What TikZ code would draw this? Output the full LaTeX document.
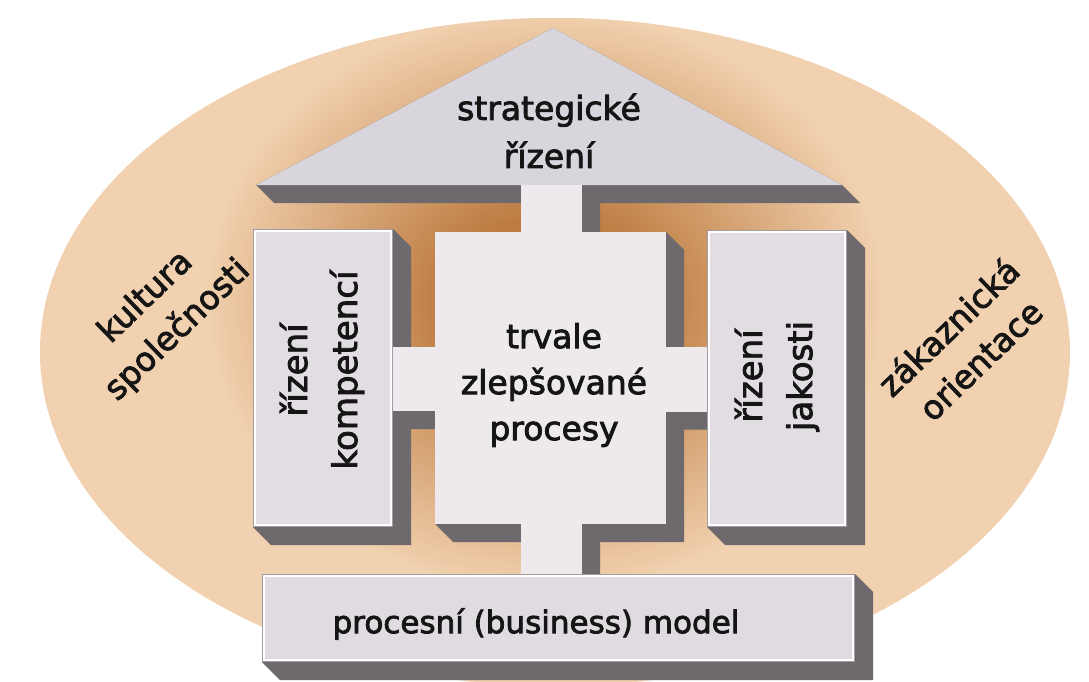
\documentclass[tikz,border=0pt]{standalone}
\usepackage{fontspec}
\setmainfont{DejaVu Sans}[FakeBold=2.5]
\usetikzlibrary{fit}

\definecolor{roofc}{HTML}{D9D5DC}
\definecolor{sidec}{HTML}{E1DDE3}
\definecolor{centc}{HTML}{EDE9ED}
\definecolor{basec}{HTML}{DFDBE1}
\definecolor{depthc}{HTML}{6D696C}
\definecolor{rimc}{HTML}{A19DA3}
\definecolor{brownc}{HTML}{BD7B40}
\definecolor{tanc}{HTML}{F1D1AF}
\definecolor{inkc}{HTML}{151515}

\pgfdeclareradialshading{halo}{\pgfpoint{0bp}{0bp}}{%
  color(0bp)=(brownc); color(7bp)=(brownc); color(25bp)=(tanc); color(50bp)=(tanc)}

\pgfdeclarelayer{backdrop}
\pgfdeclarelayer{depth}
\pgfsetlayers{backdrop,depth,main}

% depth of the extruded blocks
\newcommand\depthd{18}
% gray extrusion of a rectangular node towards the lower right
\newcommand\extrudebox[1]{%
  \fill[depthc] (#1.north west) -- (#1.north east)
    -- ([shift={(\depthd,\depthd)}]#1.north east)
    -- ([shift={(\depthd,\depthd)}]#1.south east)
    -- ([shift={(\depthd,\depthd)}]#1.south west)
    -- (#1.south west) -- cycle;}
% light inner rim of a block
\newcommand\rimbox[1]{%
  \draw[rimc, line width=0.8pt] ([shift={(0.4,0.4)}]#1.north west) rectangle ([shift={(-0.4,-0.4)}]#1.south east);
  \draw[white, line width=1.4pt] ([shift={(2,2)}]#1.north west) rectangle ([shift={(-2.2,-2.2)}]#1.south east);}

\begin{document}
\begin{tikzpicture}[x=1pt,y=-1pt,
  block/.style={fill=#1, draw=none, inner sep=0pt, outer sep=0pt},
  bar/.style={fit=#1, fill=centc, draw=none, inner sep=0pt, outer sep=0pt},
  label/.style={text=inkc, align=center, inner sep=0pt}]

\useasboundingbox (0,0) rectangle (1089,682);

% backdrop: white page and shaded ellipse
\begin{pgfonlayer}{backdrop}
  \fill[white] (0,0) rectangle (1089,682);
  \begin{scope}
    \clip (555,352) ellipse [x radius=515, y radius=334];
    \fill[tanc] (0,0) rectangle (1089,682);
    \shade[shading=halo] (545,300) ellipse [x radius=340, y radius=290];
  \end{scope}
\end{pgfonlayer}

% roof
\coordinate (apex) at (553,28);
\coordinate (eaveL) at (256,185);
\coordinate (eaveR) at (842,185);
\fill[roofc] (apex) -- (eaveR) -- (eaveL) -- cycle;

% blocks
\node[block=sidec, minimum width=140pt, minimum height=298pt] (kom) at (323,378) {};
\node[block=centc, minimum width=231pt, minimum height=292pt] (proc) at (550.5,378) {};
\node[block=sidec, minimum width=140pt, minimum height=297pt] (jak) at (777,378.5) {};
\node[block=basec, minimum width=593pt, minimum height=88pt] (base) at (558.5,618) {};
\rimbox{kom}
\rimbox{jak}
\rimbox{base}

% corners of the connecting bars
\coordinate (stemTL) at ([xshift=-29.5pt]proc.north |- eaveL);
\coordinate (stemTR) at ([xshift=31.5pt]proc.north);
\coordinate (stemBL) at ([xshift=-29.5pt]proc.south);
\coordinate (stemBR) at ([xshift=31.5pt]proc.south |- base.north);
\coordinate (barLT) at ([yshift=31pt]kom.east);
\coordinate (barLB) at ([yshift=-33pt]proc.west);
\coordinate (barRT) at ([yshift=31pt]proc.east);
\coordinate (barRB) at ([yshift=-33pt]jak.west);

% connecting bars
\node[bar={(stemTL)(stemTR)}] (stemtop) {};
\node[bar={(stemBL)(stemBR)}] (stembot) {};
\node[bar={(barLT)(barLB)}] (barL) {};
\node[bar={(barRT)(barRB)}] (barR) {};

% extrusions
\begin{pgfonlayer}{depth}
  \fill[depthc] (apex) -- (eaveR) -- ([shift={(\depthd,\depthd)}]eaveR)
    -- ([shift={(\depthd,\depthd)}]eaveL) -- (eaveL) -- cycle;
  \extrudebox{kom}
  \extrudebox{proc}
  \extrudebox{jak}
  \extrudebox{base}
  \extrudebox{stemtop}
  \extrudebox{stembot}
  \extrudebox{barL}
  \extrudebox{barR}
\end{pgfonlayer}

% labels
\node[label, font=\fontsize{33}{48}\selectfont] (strat) at (549,131) {strategické\\řízení};
\node[label, font=\fontsize{33}{46}\selectfont] (proctext) at (554,385) {trvale\\zlepšované\\procesy};
\node[label, font=\fontsize{34}{50}\selectfont, rotate=90] (komtext) at (322,370) {řízení\\kompetencí};
\node[label, font=\fontsize{34}{50}\selectfont, rotate=90] (jaktext) at (777,376) {řízení\\jakosti};
\node[label, font=\fontsize{31}{40}\selectfont] (basetext) at (536,624) {procesní (business) model};
\node[label, font=\fontsize{33}{46}\selectfont, rotate=44] (kult) at (162,314) {kultura\\společnosti};
\node[label, font=\fontsize{33}{46}\selectfont, rotate=44] (zak) at (964,343) {zákaznická\\orientace};
\end{tikzpicture}
\end{document}
